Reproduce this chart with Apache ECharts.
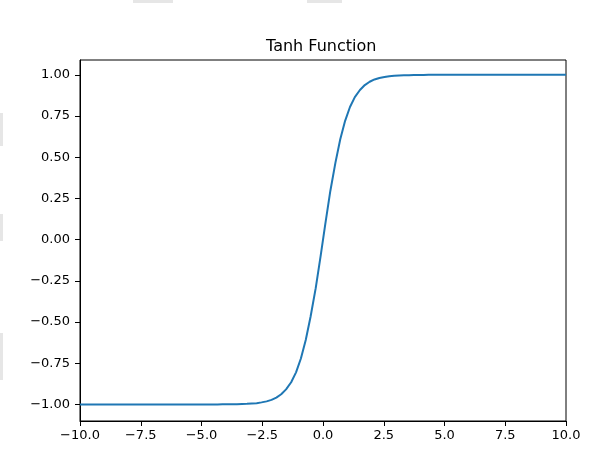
<!DOCTYPE html>
<html>
<head>
<meta charset="utf-8">
<script src="https://cdn.jsdelivr.net/npm/echarts@6/dist/echarts.min.js"></script>
<style>
html,body{margin:0;padding:0;background:#fff;}
#c{width:613px;height:460px;}
</style>
</head>
<body>
<div id="c"></div>
<script>
var xValues = [-10.00,-9.80,-9.60,-9.39,-9.19,-8.99,-8.79,-8.59,-8.38,-8.18,-7.98,-7.78,-7.58,-7.37,-7.17,-6.97,-6.77,-6.57,-6.36,-6.16,-5.96,-5.76,-5.56,-5.35,-5.15,-4.95,-4.75,-4.55,-4.34,-4.14,-3.94,-3.74,-3.54,-3.33,-3.13,-2.93,-2.73,-2.53,-2.32,-2.12,-1.92,-1.72,-1.52,-1.31,-1.11,-0.91,-0.71,-0.51,-0.30,-0.10,
  0.10,0.30,0.51,0.71,0.91,1.11,1.31,1.52,1.72,1.92,2.12,2.32,2.53,2.73,2.93,3.13,3.33,3.54,3.74,3.94,4.14,4.34,4.55,4.75,4.95,5.15,5.35,5.56,5.76,5.96,6.16,6.36,6.57,6.77,6.97,7.17,7.37,7.58,7.78,7.98,8.18,8.38,8.59,8.79,8.99,9.19,9.39,9.60,9.80,10.00];
var yValues = [-1.000,-1.000,-1.000,-1.000,-1.000,-1.000,-1.000,-1.000,-1.000,-1.000,-1.000,-1.000,-1.000,-1.000,-1.000,-1.000,-1.000,-1.000,-1.000,-1.000,-1.000,-1.000,-1.000,-1.000,-1.000,-1.000,-1.000,-1.000,-1.000,-0.999,-0.999,-0.999,-0.998,-0.997,-0.996,-0.994,-0.992,-0.987,-0.981,-0.972,-0.958,-0.938,-0.908,-0.865,-0.805,-0.721,-0.609,-0.466,-0.294,-0.101,
  0.101,0.294,0.466,0.609,0.721,0.805,0.865,0.908,0.938,0.958,0.972,0.981,0.987,0.992,0.994,0.996,0.997,0.998,0.999,0.999,0.999,1.000,1.000,1.000,1.000,1.000,1.000,1.000,1.000,1.000,1.000,1.000,1.000,1.000,1.000,1.000,1.000,1.000,1.000,1.000,1.000,1.000,1.000,1.000,1.000,1.000,1.000,1.000,1.000,1.000];
var xTicks = [-10,-7.5,-5,-2.5,0,2.5,5,7.5,10];
var yTicks = [-1,-0.75,-0.5,-0.25,0,0.25,0.5,0.75,1];
var titleText = 'Tanh Function';

function fmt(v, d){
  var s = Math.abs(v).toFixed(d);
  return (v < 0 ? '\u2212' : '') + s;
}

var pts = xValues.map(function(x,i){return [x, yValues[i]];});
var font = 'DejaVu Sans';
var chart = echarts.init(document.getElementById('c'), null, {renderer:'canvas'});
chart.setOption({
  animation:false,
  backgroundColor:'#fff',
  title:{text:titleText,left:266,top:39,padding:0,textStyle:{fontFamily:font,fontSize:16,fontWeight:'normal',color:'#000'}},
  grid:{left:80,right:47,top:60,bottom:39,show:true,borderColor:'#000',borderWidth:1,backgroundColor:'transparent'},
  xAxis:{type:'value',min:-10,max:10,interval:2.5,
    axisLine:{show:true,onZero:false,lineStyle:{color:'#000',width:1}},
    axisTick:{show:true,length:5,inside:false,lineStyle:{color:'#000'}},
    axisLabel:{margin:8,color:'#000',fontFamily:font,fontSize:13,formatter:function(v){return fmt(v,1);}},
    splitLine:{show:false}},
  yAxis:{type:'value',min:-1.1,max:1.09,
    axisLine:{show:true,onZero:false,lineStyle:{color:'#000',width:1}},
    axisTick:{show:true,length:5,customValues:yTicks,lineStyle:{color:'#000'}},
    axisLabel:{margin:10,color:'#000',fontFamily:font,fontSize:13,customValues:yTicks,formatter:function(v){return fmt(v,2);}},
    splitLine:{show:false}},
  series:[{type:'line',data:pts,showSymbol:false,symbol:'none',lineStyle:{color:'#1f77b4',width:2},z:3}],
  graphic:[
    {type:'rect',shape:{x:133,y:0,width:40,height:3},style:{fill:'#e6e6e6'}},
    {type:'rect',shape:{x:307,y:0,width:35,height:3},style:{fill:'#e6e6e6'}},
    {type:'rect',shape:{x:0,y:113,width:3,height:33},style:{fill:'#e6e6e6'}},
    {type:'rect',shape:{x:0,y:214,width:3,height:27},style:{fill:'#e6e6e6'}},
    {type:'rect',shape:{x:0,y:333,width:3,height:47},style:{fill:'#e6e6e6'}}
  ]
});
</script>
</body>
</html>
